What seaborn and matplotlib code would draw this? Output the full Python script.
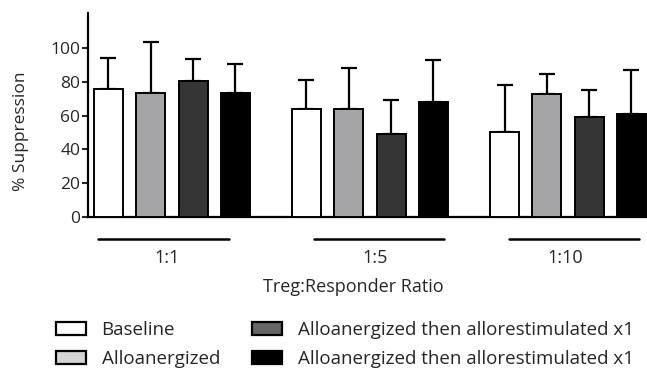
import pandas as pd
import numpy as np
import matplotlib
matplotlib.use("Agg")
import matplotlib.pyplot as plt
import matplotlib.patches as mpatches
import seaborn as sns

# data
ratios = ["1:1", "1:5", "1:10"]
conditions = ["Baseline", "Alloanergized",
              "Alloanergized then allorestimulated x1",
              "Alloanergized then allorestimulated x1"]
means = [[75.8, 73.6, 80.4, 73.6],
         [64.1, 64.1, 49.1, 67.9],
         [50.1, 72.7, 59.0, 60.8]]
upper = [[94.4, 103.5, 93.8, 90.7],
         [81.0, 88.1, 69.1, 92.9],
         [78.0, 84.7, 75.0, 87.1]]

bar_colors = ["#ffffff", "#a4a4a9", "#353535", "#000000"]
legend_colors = ["#ffffff", "#d4d4d4", "#666666", "#000000"]

# hue keys must be unique, the two last conditions share one name
keys = ["c%d" % i for i in range(len(conditions))]
rows = []
for r, ratio in enumerate(ratios):
    for c, key in enumerate(keys):
        rows.append({"ratio": ratio, "cond": key, "value": means[r][c]})
df = pd.DataFrame(rows)

sns.set_style("white")
plt.rcParams["font.family"] = ["Open Sans", "DejaVu Sans"]

fig = plt.figure(figsize=(6.47, 3.70), dpi=100)
ax = fig.add_axes([0.136, 0.414, 0.864, 0.551])

sns.barplot(data=df, x="ratio", y="value", hue="cond", order=ratios,
            hue_order=keys, palette=bar_colors, width=0.855, gap=0.317,
            errorbar=None, edgecolor="black", linewidth=1.4, legend=False,
            ax=ax, zorder=3)

# upper-only error bars on the seaborn bar centres (patches come hue by hue)
for i, key in enumerate(keys):
    for j, ratio in enumerate(ratios):
        p = ax.patches[i * len(ratios) + j]
        xc = p.get_x() + p.get_width() / 2
        v = means[j][i]
        e = upper[j][i] - v
        ax.errorbar(xc, v, yerr=[[0], [e]], fmt="none", ecolor="black",
                    elinewidth=1.6, capsize=5.5, capthick=1.6, zorder=2)

ax.set_ylim(0, 121)
ax.set_xlim(-0.424, 2.399)
ax.set_yticks([0, 20, 40, 60, 80, 100])
ax.tick_params(axis="y", length=4.5, width=1.5, labelsize=12.5, pad=1,
               left=True, direction="out")
ax.tick_params(axis="x", length=0, labelbottom=False)
ax.set_ylabel("% Suppression", fontsize=12.5)
ax.yaxis.set_label_coords(-0.119, 0.418)
ax.set_xlabel("Treg:Responder Ratio", fontsize=13)
ax.xaxis.set_label_coords(0.474, -0.345)
ax.xaxis.label.set_va("center")
ax.yaxis.label.set_va("center")
for s in ["top", "right"]:
    ax.spines[s].set_visible(False)
for s in ["left", "bottom"]:
    ax.spines[s].set_linewidth(1.6)
    ax.spines[s].set_color("black")

# group underlines and labels below the axis
line_shifts = [-0.043, 0.045, 0.03]
label_shifts = [-0.025, 0.025, -0.015]
half = 0.33
tr = ax.get_xaxis_transform()
for j, ratio in enumerate(ratios):
    ax.plot([j + line_shifts[j] - half, j + line_shifts[j] + half],
            [-0.109, -0.109], color="black", lw=1.8, transform=tr,
            clip_on=False)
    ax.text(j + label_shifts[j], -0.203, ratio, transform=tr, ha="center",
            va="center", fontsize=13)

handles = [mpatches.Patch(facecolor=col, edgecolor="black", linewidth=1.6)
           for col in legend_colors]
fig.legend(handles, conditions, ncol=2, loc="upper left",
           bbox_to_anchor=(0.086, 0.133), frameon=False, fontsize=13.5,
           handlelength=1.6, handleheight=0.7, handletextpad=0.85,
           columnspacing=1.7, labelspacing=0.62, borderpad=0,
           borderaxespad=0)

fig.savefig("out.png", dpi=100)
